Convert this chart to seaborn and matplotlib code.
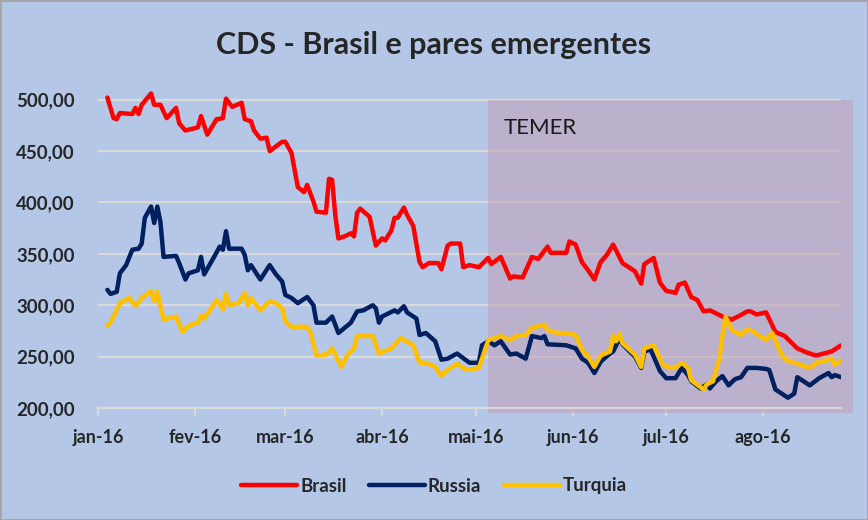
import pandas as pd
import matplotlib
matplotlib.use("Agg")
import matplotlib.pyplot as plt
import matplotlib.dates as mdates
from matplotlib.patches import Rectangle
from matplotlib.ticker import FuncFormatter
import seaborn as sns

# dias contados a partir de 01/01/2016
brasil_dias = [3, 5, 6, 7, 11, 12, 13, 14, 17, 18, 20, 22, 25, 26, 28, 32, 33, 35, 38, 40,
               41, 43, 46, 47, 49, 50, 52, 54, 55, 59, 60, 62, 64, 66, 67, 69, 70, 73, 74, 75,
               76, 77, 79, 81, 82, 83, 84, 87, 89, 91, 92, 94, 95, 96, 98, 99, 101, 103, 104, 106,
               109, 110, 112, 113, 116, 117, 119, 122, 124, 125, 126, 129, 132, 133, 136, 139, 141, 144, 145, 150,
               151, 153, 155, 157, 159, 161, 163, 165, 168, 172, 174, 175, 178, 180, 182, 185, 186, 188, 190, 192,
               194, 196, 200, 203, 205, 208, 209, 211, 214, 217, 220, 224, 227, 230, 235, 238]
brasil_cds = [502, 482, 481, 487, 486, 492, 486, 495, 506, 495, 495, 482, 492, 477, 470, 473, 484, 466, 481, 482,
              501, 493, 497, 481, 479, 470, 462, 463, 450, 459, 459, 448, 415, 410, 417, 401, 391, 390, 423, 422,
              388, 365, 367, 370, 367, 390, 394, 386, 358, 365, 363, 373, 385, 385, 395, 388, 377, 342, 337, 341,
              341, 335, 358, 360, 360, 337, 339, 337, 343, 346, 340, 347, 326, 328, 327, 347, 345, 357, 351, 351,
              362, 359, 342, 334, 325, 342, 349, 359, 341, 333, 321, 340, 346, 322, 314, 312, 320, 322, 308, 305,
              294, 295, 289, 286, 289, 294, 294, 291, 293, 274, 270, 258, 254, 251, 255, 261]

russia_dias = [3, 4, 6, 7, 9, 11, 13, 14, 15, 17, 18, 19, 20, 21, 25, 26, 28, 29, 32, 33,
               34, 37, 39, 40, 41, 42, 46, 47, 48, 49, 52, 55, 57, 59, 60, 62, 64, 67, 69, 70,
               73, 75, 77, 79, 81, 83, 85, 88, 89, 90, 91, 95, 96, 98, 99, 102, 103, 105, 108, 110,
               112, 115, 119, 122, 123, 125, 127, 129, 132, 134, 137, 139, 142, 143, 144, 150, 153, 155, 157, 159,
               161, 164, 165, 166, 167, 168, 172, 174, 175, 177, 180, 182, 185, 187, 189, 190, 193, 195, 196, 198,
               200, 202, 204, 206, 208, 211, 214, 215, 217, 221, 223, 224, 228, 231, 234, 235, 236, 238]
russia_cds = [315, 311, 313, 331, 339, 354, 355, 360, 385, 396, 380, 396, 381, 347, 348, 341, 325, 331, 334, 347,
              330, 346, 357, 354, 372, 355, 355, 349, 334, 339, 325, 339, 330, 323, 310, 307, 302, 308, 300, 283,
              283, 289, 273, 278, 283, 294, 295, 300, 297, 283, 289, 295, 293, 299, 293, 287, 271, 273, 265, 247,
              248, 253, 244, 244, 261, 265, 261, 265, 252, 253, 248, 270, 268, 270, 262, 261, 258, 248, 244, 234,
              245, 253, 255, 261, 268, 262, 250, 239, 255, 257, 236, 229, 229, 239, 232, 226, 219, 223, 219, 226,
              231, 222, 228, 230, 239, 239, 238, 237, 218, 210, 214, 230, 222, 229, 234, 230, 232, 230]

turquia_dias = [3, 4, 7, 10, 12, 14, 17, 18, 19, 21, 25, 27, 29, 32, 33, 34, 38, 40, 41, 42,
                45, 47, 48, 49, 52, 55, 57, 59, 60, 62, 67, 68, 70, 73, 75, 78, 80, 82, 83, 88,
                90, 94, 97, 101, 103, 105, 108, 110, 112, 115, 118, 122, 124, 125, 127, 129, 132, 134, 137, 139,
                143, 144, 147, 150, 153, 155, 157, 159, 161, 164, 165, 166, 167, 168, 172, 174, 175, 178, 181, 183,
                185, 187, 189, 190, 194, 195, 197, 199, 200, 201, 203, 206, 208, 210, 214, 216, 218, 220, 224, 228,
                230, 232, 235, 236, 237, 238]
turquia_cds = [280, 283, 302, 307, 299, 307, 314, 304, 313, 286, 289, 274, 280, 283, 290, 287, 305, 296, 311, 300,
               302, 312, 300, 307, 295, 304, 302, 297, 284, 279, 279, 274, 251, 252, 258, 240, 252, 258, 270, 270,
               253, 258, 268, 261, 244, 244, 240, 231, 237, 243, 237, 239, 257, 266, 268, 270, 266, 270, 271, 278,
               281, 276, 273, 273, 271, 257, 250, 240, 251, 255, 270, 265, 272, 263, 252, 240, 258, 261, 242, 239,
               239, 244, 239, 227, 218, 223, 226, 248, 270, 289, 276, 271, 277, 274, 266, 273, 258, 247, 243, 239,
               244, 245, 248, 242, 244, 246]

paises = ["Brasil", "Russia", "Turquia"]
cores = ["#FF0000", "#002060", "#FFC000"]
meses = ["jan-16", "fev-16", "mar-16", "abr-16", "mai-16", "jun-16", "jul-16", "ago-16"]

inicio = pd.Timestamp("2016-01-01")
temer_ini, temer_fim = 125, 242

frames = []
for nome, dias, vals in [("Brasil", brasil_dias, brasil_cds),
                         ("Russia", russia_dias, russia_cds),
                         ("Turquia", turquia_dias, turquia_cds)]:
    frames.append(pd.DataFrame({"data": inicio + pd.to_timedelta(dias, unit="D"),
                                "cds": vals, "pais": nome}))
df = pd.concat(frames, ignore_index=True)

fundo = "#B4C7E7"
grade = "#D9D9D9"
sns.set_style("white")
plt.rcParams["font.family"] = ["Lato", "DejaVu Sans"]

fig = plt.figure(figsize=(8.68, 5.2), dpi=100, facecolor=fundo)
fig.patch.set_edgecolor("#A6A6A6")
fig.patch.set_linewidth(2)
ax = fig.add_axes([0.1129, 0.2154, 0.856, 0.6127])
ax.set_facecolor(fundo)

sns.lineplot(data=df, x="data", y="cds", hue="pais", hue_order=paises,
             palette=cores, linewidth=3.2, ax=ax, zorder=3)

ax.set_ylim(200, 510)
ax.set_yticks([200, 250, 300, 350, 400, 450, 500])
ax.yaxis.set_major_formatter(FuncFormatter(lambda v, p: f"{v:.2f}".replace(".", ",")))
ax.set_xlim(inicio, inicio + pd.Timedelta(days=238))
ticks = pd.date_range("2016-01-01", periods=8, freq="MS")
ax.set_xticks(ticks)
ax.set_xticklabels(meses)
ax.grid(axis="y", color=grade, linewidth=1.6, zorder=0.5)
ax.set_axisbelow(True)

for lado in ["left", "right", "top"]:
    ax.spines[lado].set_visible(False)
ax.spines["bottom"].set_color(grade)
ax.spines["bottom"].set_linewidth(1.6)
ax.tick_params(axis="x", bottom=True, length=6, width=1.6, color=grade, pad=9)
ax.tick_params(axis="y", left=False, pad=13)
for lbl in ax.get_xticklabels():
    lbl.set_fontweight("bold")
    lbl.set_fontsize(13)
for lbl in ax.get_yticklabels():
    lbl.set_fontweight("bold")
    lbl.set_fontsize(13.5)
ax.set_xlabel("")
ax.set_ylabel("")

# faixa do governo Temer
x0 = mdates.date2num(inicio + pd.Timedelta(days=temer_ini))
x1 = mdates.date2num(inicio + pd.Timedelta(days=temer_fim))
ax.add_patch(Rectangle((x0, 195), x1 - x0, 305, facecolor="#C29DB3", alpha=0.5,
                       edgecolor="none", zorder=1, clip_on=False))
ax.text(inicio + pd.Timedelta(days=temer_ini + 5), 472, "TEMER", fontsize=16, color="#1a1a1a",
        va="center", ha="left", zorder=4)

fig.text(0.5, 1 - 45 / 520, "CDS - Brasil e pares emergentes", ha="center", va="center",
         fontsize=22, fontweight="bold")

ax.legend_.remove()
hs, ls = ax.get_legend_handles_labels()
leg = fig.legend(hs, ls, loc="center", bbox_to_anchor=(0.5, 1 - 486 / 520), ncol=3,
                 frameon=False, handlelength=3.0, columnspacing=1.2, handletextpad=0.15,
                 prop={"weight": "bold", "size": 13.5})

fig.savefig("out.png", dpi=100, facecolor=fundo, edgecolor=fig.patch.get_edgecolor())
